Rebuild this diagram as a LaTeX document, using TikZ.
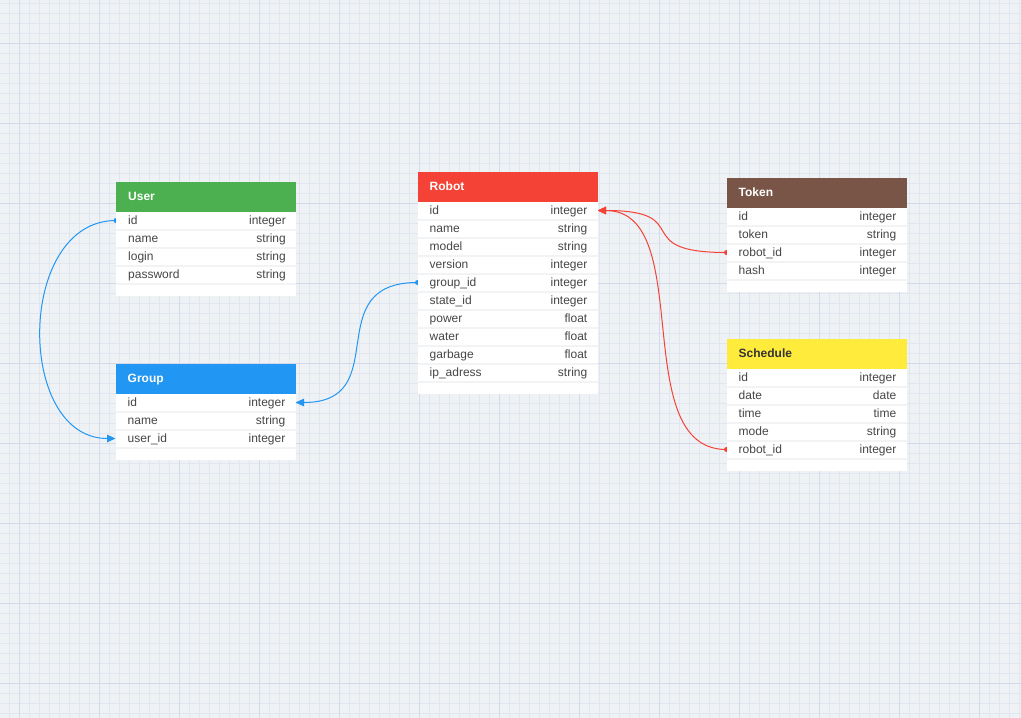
\documentclass[tikz,border=0pt]{standalone}
\usepackage{fontspec}
\setmainfont{Liberation Sans}
\usetikzlibrary{arrows.meta}
\pgfdeclarelayer{gridlayer}
\pgfdeclarelayer{connlayer}
\pgfsetlayers{gridlayer,connlayer,main}
\definecolor{bgc}{HTML}{EEF2F5}
\definecolor{gridminor}{HTML}{E1E6F0}
\definecolor{gridmajor}{HTML}{D3DBEB}
\definecolor{sepc}{HTML}{F2F3F5}
\definecolor{rowtext}{HTML}{464646}
\definecolor{cgreen}{HTML}{4CAF50}
\definecolor{cblue}{HTML}{2196F3}
\definecolor{cred}{HTML}{F44336}
\definecolor{cbrown}{HTML}{795548}
\definecolor{cyellow}{HTML}{FFEB3B}
\definecolor{darktitle}{HTML}{333333}
\tikzset{
  rowtxt/.style={inner sep=0pt, text=rowtext, font=\fontsize{12}{14}\selectfont},
  hdrtxt/.style={inner sep=0pt, font=\fontsize{12}{14}\selectfont\bfseries},
  conn/.style={line width=1pt, -{Triangle[length=8.5pt,width=7.5pt]}},
}
% #1 id, #2 x, #3 y, #4 title, #5 fill, #6 title colour, #7 rows, #8 number of rows
\newcommand\erdtable[8]{%
  \fill[white] (#2,#3) rectangle ++(180,{30+18*#8+12});
  \fill[#5] (#2,#3) rectangle ++(180,30);
  \node[hdrtxt, text=#6, anchor=base west] (#1-h) at ({#2+12},{#3+18.5}) {#4};
  \foreach \nm/\ty [count=\i] in {#7} {
    \fill[sepc] ({#2},{#3+30+18*(\i-1)+16.5}) rectangle ++(180,2);
    \node[rowtxt, anchor=base west] (#1-n\i) at ({#2+12},{#3+30+18*(\i-1)+12}) {\nm};
    \node[rowtxt, anchor=base east] (#1-t\i) at ({#2+170},{#3+30+18*(\i-1)+12}) {\ty};
    \coordinate (#1-r\i-L) at ({#2},{#3+30+18*(\i-1)+8.5});
    \coordinate (#1-r\i-R) at ({#2+180},{#3+30+18*(\i-1)+8.5});
  }%
}
\begin{document}
\begin{tikzpicture}[x=1pt,y=-1pt]
\useasboundingbox (0,0) rectangle (1021,718);
\begin{pgfonlayer}{gridlayer}
  \fill[bgc] (0,0) rectangle (1021,718);
  \foreach \k in {0,...,101} \draw[gridminor, line width=0.7pt] ({9.5+10*\k},0) -- ++(0,718);
  \foreach \k in {0,...,71} \draw[gridminor, line width=0.7pt] (0,{3.5+10*\k}) -- ++(1021,0);
  \foreach \k in {0,...,12} \draw[gridmajor, line width=1pt] ({19.5+80*\k},0) -- ++(0,718);
  \foreach \k in {0,...,8} \draw[gridmajor, line width=1pt] (0,{43.5+80*\k}) -- ++(1021,0);
\end{pgfonlayer}

\erdtable{user}{116}{182}{User}{cgreen}{white}{id/integer,name/string,login/string,password/string}{4}
\erdtable{group}{115.5}{364}{Group}{cblue}{white}{id/integer,name/string,user\_id/integer}{3}
\erdtable{robot}{417.5}{172}{Robot}{cred}{white}{id/integer,name/string,model/string,version/integer,group\_id/integer,state\_id/integer,power/float,water/float,garbage/float,ip\_adress/string}{10}
\erdtable{token}{726.5}{178}{Token}{cbrown}{white}{id/integer,token/string,robot\_id/integer,hash/integer}{4}
\erdtable{schedule}{726.5}{339}{Schedule}{cyellow}{darktitle}{id/integer,date/date,time/time,mode/string,robot\_id/integer}{5}

\begin{pgfonlayer}{connlayer}
  \draw[conn, cblue] (user-r1-L) .. controls +(-100,0) and +(-100,0) .. (group-r3-L);
  \fill[cblue] (user-r1-L) circle (2.5);
  \draw[conn, cblue] (robot-r5-L) .. controls +(-100,0) and +(100,0) .. (group-r1-R);
  \fill[cblue] (robot-r5-L) circle (2.5);
  \draw[conn, cred] (token-r3-L) .. controls +(-100,0) and +(100,0) .. (robot-r1-R);
  \fill[cred] (token-r3-L) circle (2.5);
  \draw[conn, cred] (schedule-r5-L) .. controls +(-100,0) and +(100,0) .. (robot-r1-R);
  \fill[cred] (schedule-r5-L) circle (2.5);
\end{pgfonlayer}
\end{tikzpicture}
\end{document}
